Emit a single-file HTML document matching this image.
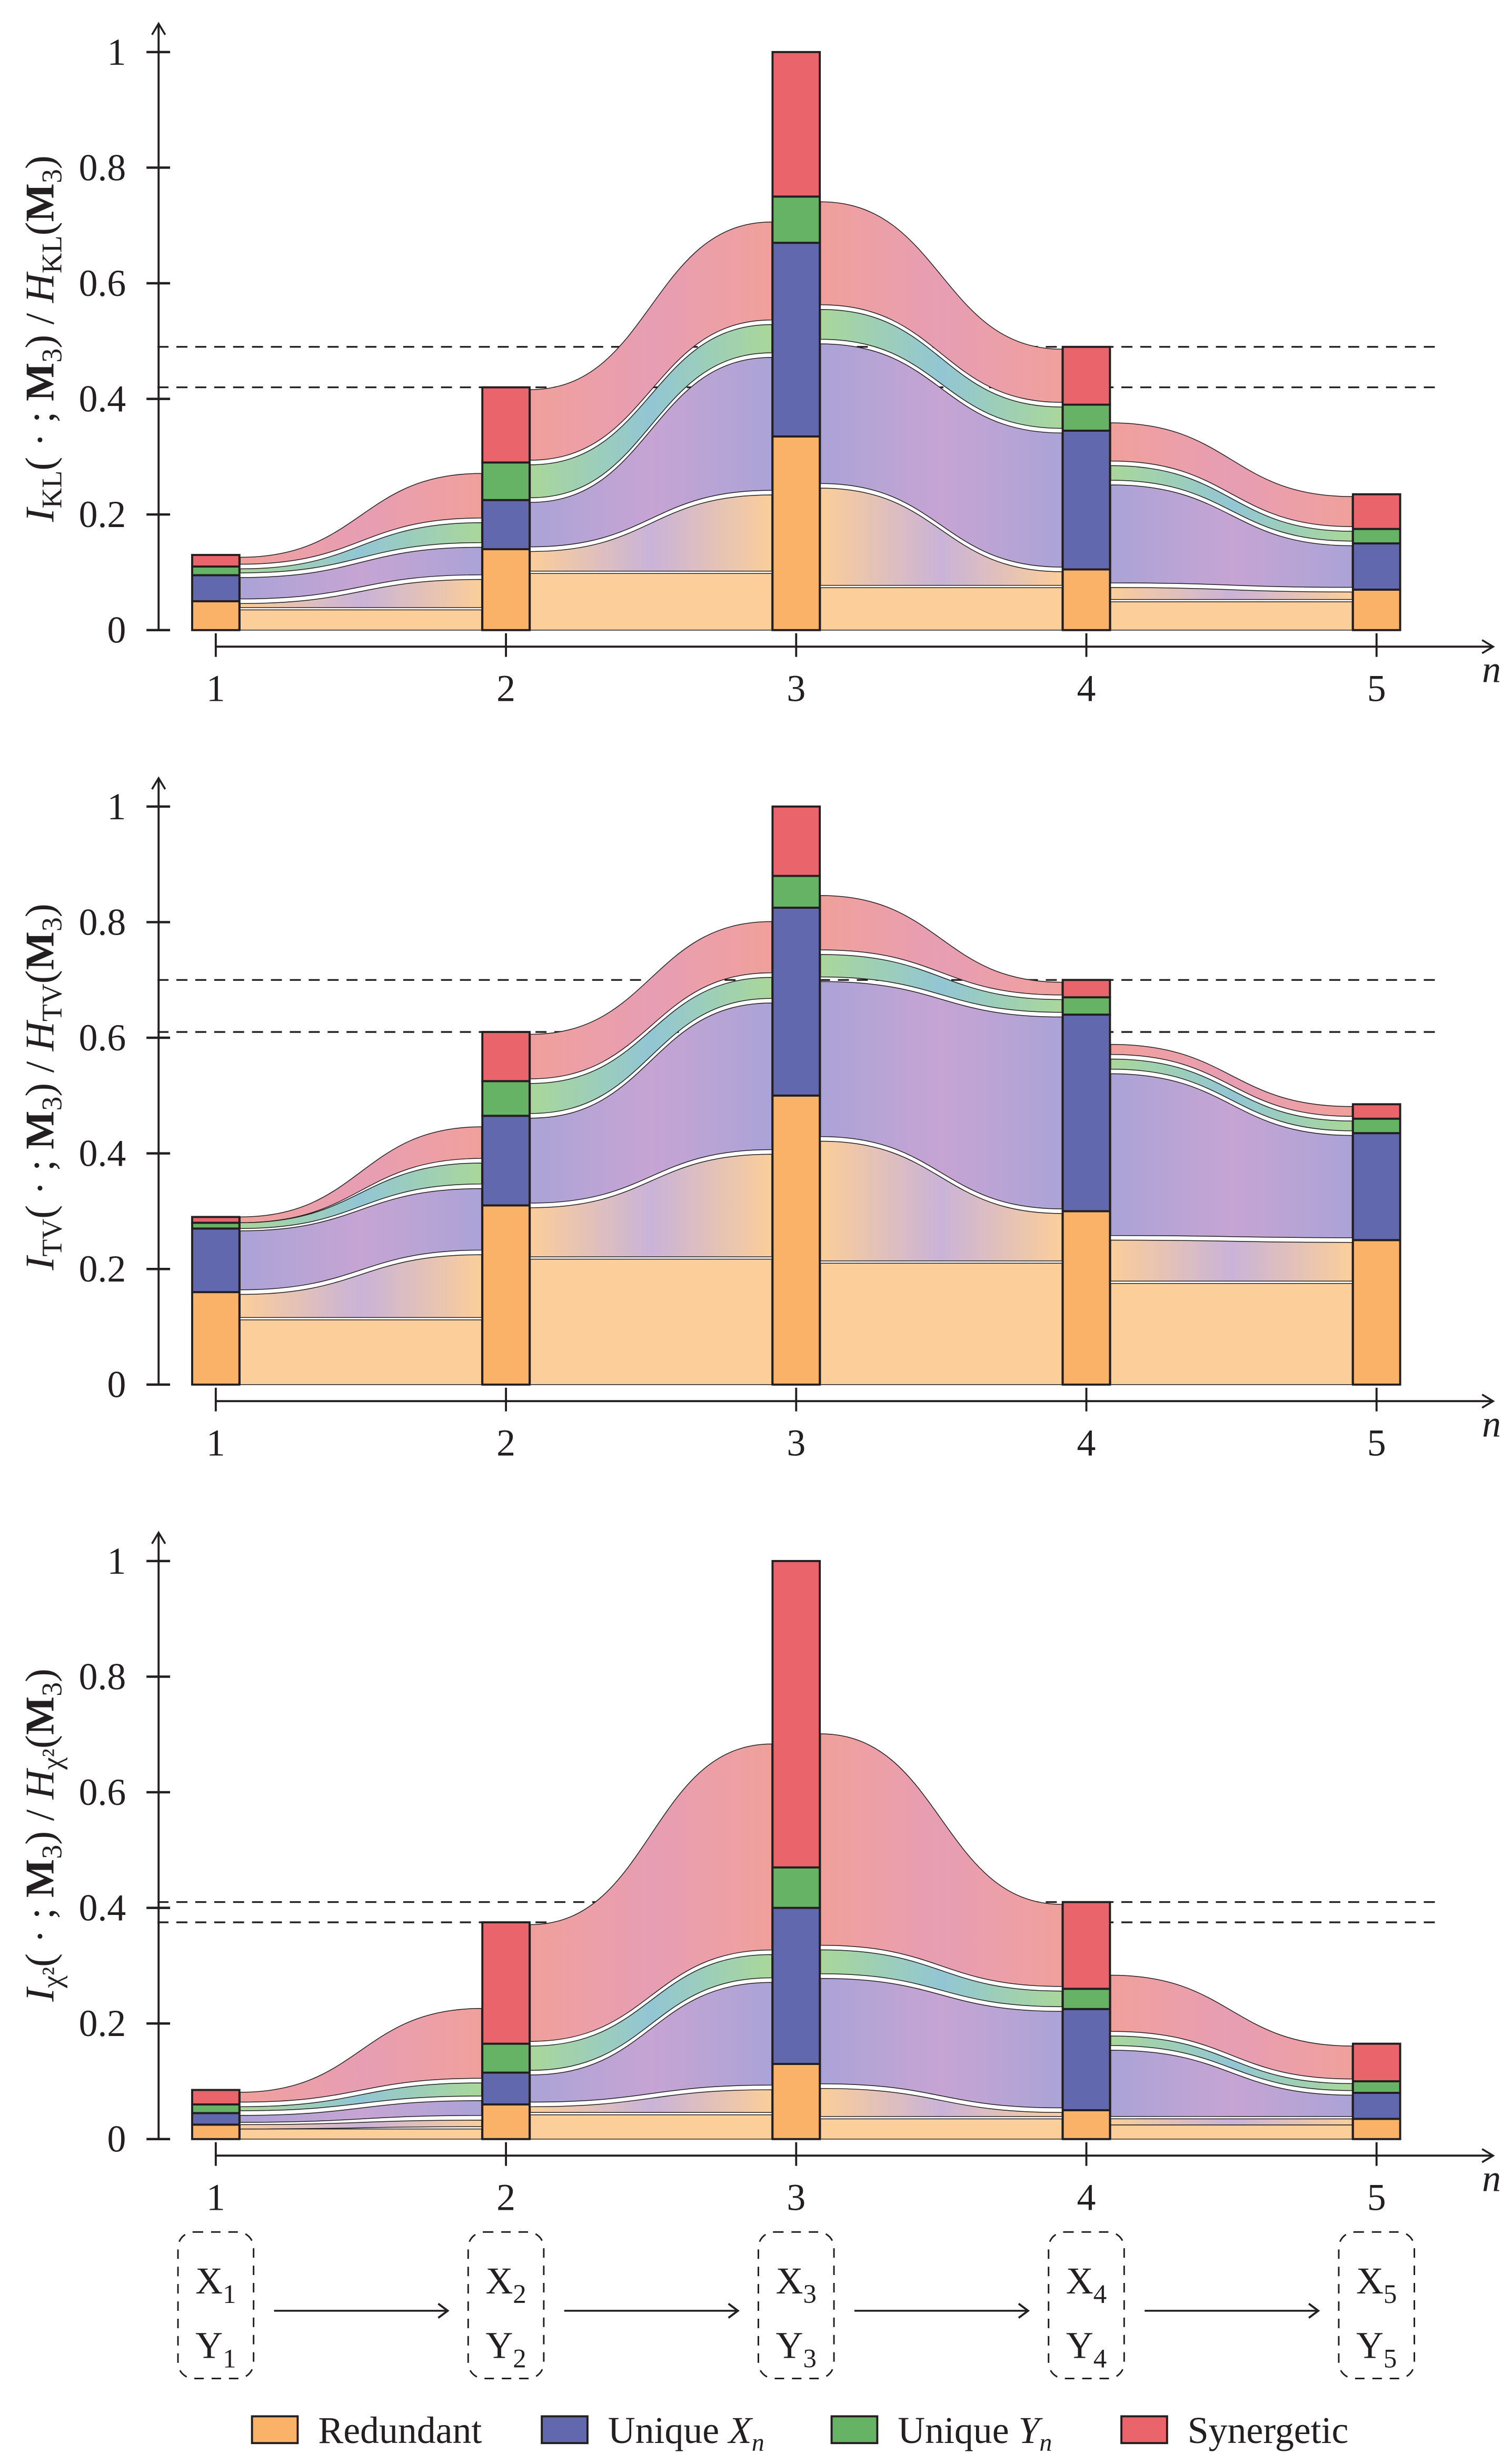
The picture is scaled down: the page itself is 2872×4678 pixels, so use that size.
<!DOCTYPE html>
<html><head><meta charset="utf-8">
<style>
html,body{margin:0;padding:0;background:#fff;}
svg{display:block;}
text{font-family:"Liberation Serif",serif;fill:#231f20;}
</style></head>
<body>
<svg id="root" width="2872" height="4678" viewBox="0 0 960 1563.6" xmlns="http://www.w3.org/2000/svg">
<defs id="defs"></defs>
<g id="charts"></g>
<g id="diagram"></g>
<g id="legend"></g>
</svg>
<script>
const categories=[1,2,3,4,5];
// Chart 1 (KL)
const klRedundant=[0.05,0.14,0.335,0.105,0.07];
const klUniqueX=[0.045,0.085,0.335,0.24,0.08];
const klUniqueY=[0.015,0.065,0.08,0.045,0.025];
const klSynergetic=[0.02,0.13,0.25,0.10,0.06];
const klDashed=[0.49,0.42];
// Chart 2 (TV)
const tvRedundant=[0.16,0.31,0.50,0.30,0.25];
const tvUniqueX=[0.11,0.155,0.325,0.34,0.185];
const tvUniqueY=[0.01,0.06,0.055,0.03,0.025];
const tvSynergetic=[0.01,0.085,0.12,0.03,0.025];
const tvDashed=[0.70,0.61];
// Chart 3 (chi^2)
const chiRedundant=[0.025,0.06,0.13,0.05,0.035];
const chiUniqueX=[0.02,0.055,0.27,0.175,0.045];
const chiUniqueY=[0.015,0.05,0.07,0.035,0.02];
const chiSynergetic=[0.025,0.21,0.53,0.15,0.065];
const chiDashed=[0.41,0.375];
const yTicks=[0,0.2,0.4,0.6,0.8,1];
const yTickLabels=["0","0.2","0.4","0.6","0.8","1"];

const NS="http://www.w3.org/2000/svg";
const barColors=["#F9B267","#6168AE","#66B366","#E9656B"];
const lightColors=["#FBCE9A","#ABA3D6","#A9D79A","#F0A09B"];
const midColors=["#C9B3D8","#C6A4D4","#92C6D4","#E79EB4"];
const compNames=["redundant","unique-x","unique-y","synergetic"];
function mk(tag,attrs,parent){const e=document.createElementNS(NS,tag);for(const k in attrs)e.setAttribute(k,attrs[k]);if(parent)parent.appendChild(e);return e;}
const defs=document.getElementById('defs');
const chartsG=document.getElementById('charts');
const X0=137, DX=184.25, HALF=15, UNIT=367;
function xs(n){return X0+(n-1)*DX;}

function drawChart(id,y0,series,dashed,lab,labY){
  const ys=v=>y0-v*UNIT;
  const g=mk('g',{},chartsG);
  
  
  const stacks=categories.map((c,i)=>{let acc=0;return series.map(s=>{const lo=acc;acc+=s[i];return [lo,acc];});});
  const totals=categories.map((c,i)=>series.reduce((a,s)=>a+s[i],0));
  dashed.forEach((d,k)=>{
    const l=mk('line',{x1:100,x2:912,y1:ys(d),y2:ys(d),stroke:'#231f20','stroke-width':1.1,'stroke-dasharray':'7,5'},g);
    
    
  });
  const fg=mk('g',{},g);
  
  
  for(let i=0;i<categories.length-1;i++){
    const x1=xs(categories[i])+HALF+0.5, x2=xs(categories[i+1])-HALF-0.5, xm=(x1+x2)/2;
    const avg=(totals[i]+totals[i+1])/2;
    const fs=Math.min(1,avg/totals[i]), ft=Math.min(1,avg/totals[i+1]);
    const base=Math.min(series[0][i],series[0][i+1])*0.7;
    const b=mk('rect',{x:x1,y:ys(base),width:x2-x1,height:base*UNIT,fill:lightColors[0],stroke:'#231f20','stroke-width':0.5},fg);
    
    
    for(let k=3;k>=0;k--){
      const s=stacks[i][k], t=stacks[i+1][k];
      let sLo=s[0]*fs,sHi=s[1]*fs,tLo=t[0]*ft,tHi=t[1]*ft;
      if(k===0){sLo=base;tLo=base;}
      const pad=0.004;
      if(sHi-sLo>3*pad){sLo+=pad;sHi-=pad;}
      if(tHi-tLo>3*pad){tLo+=pad;tHi-=pad;}
      const gid=id+'-grad-'+i+'-'+k;
      const lg=mk('linearGradient',{id:gid,x1:0,x2:1,y1:0,y2:0},defs);
      mk('stop',{offset:'0','stop-color':lightColors[k]},lg);
      mk('stop',{offset:'0.5','stop-color':midColors[k]},lg);
      mk('stop',{offset:'1','stop-color':lightColors[k]},lg);
      const d=`M${x1},${ys(sHi)} C${xm},${ys(sHi)} ${xm},${ys(tHi)} ${x2},${ys(tHi)} L${x2},${ys(tLo)} C${xm},${ys(tLo)} ${xm},${ys(sLo)} ${x1},${ys(sLo)} Z`;
      const p=mk('path',{d,fill:`url(#${gid})`,stroke:'#231f20','stroke-width':0.5},fg);
      
      
    }
  }
  categories.forEach((c,i)=>{
    const bg=mk('g',{},g);
    
    
    stacks[i].forEach((r,k)=>{
      const rc=mk('rect',{x:xs(c)-HALF,y:ys(r[1]),width:2*HALF,height:(r[1]-r[0])*UNIT,fill:barColors[k],stroke:'#231f20','stroke-width':1.3},bg);
      
      
    });
  });
  const ya=mk('g',{},g);
  
  
  mk('line',{x1:100.7,x2:100.7,y1:y0,y2:y0-384,stroke:'#231f20','stroke-width':1.3},ya);
  mk('path',{d:`M96.5,${y0-378} L100.7,${y0-385} L104.9,${y0-378}`,fill:'none',stroke:'#231f20','stroke-width':1.2},ya);
  yTicks.forEach((v,k)=>{
    mk('line',{x1:93,x2:108,y1:ys(v),y2:ys(v),stroke:'#231f20','stroke-width':1.5},ya);
    const t=mk('text',{x:80,y:ys(v)+8,'text-anchor':'end','font-size':24},ya);
    t.textContent=yTickLabels[k];
    
    
  });
  const xa=mk('g',{},g);
  
  
  const ax=y0+10.5;
  mk('line',{x1:137,x2:947,y1:ax,y2:ax,stroke:'#231f20','stroke-width':1.3},xa);
  mk('path',{d:`M941,${ax-4.2} L948,${ax} L941,${ax+4.2}`,fill:'none',stroke:'#231f20','stroke-width':1.2},xa);
  categories.forEach(c=>{
    mk('line',{x1:xs(c),x2:xs(c),y1:y0+2,y2:y0+17,stroke:'#231f20','stroke-width':1.3},xa);
    const t=mk('text',{x:xs(c),y:y0+45,'text-anchor':'middle','font-size':24},xa);
    t.textContent=String(c);
    
    
  });
  const nt=mk('text',{x:947,y:y0+33,'text-anchor':'middle','font-size':24,'font-style':'italic'},xa);
  nt.textContent='n';
  
  
  const yl=mk('text',{transform:`translate(34,${labY}) rotate(-90)`,'text-anchor':'middle','font-size':26},g);
  
  
  yl.innerHTML=`<tspan font-style="italic">I</tspan><tspan font-size="18" dy="5">${lab}</tspan><tspan dy="-5">(  ·  ; </tspan><tspan font-weight="bold">M</tspan><tspan font-size="18" dy="5">3</tspan><tspan dy="-5">) / </tspan><tspan font-style="italic">H</tspan><tspan font-size="18" dy="5">${lab}</tspan><tspan dy="-5">(</tspan><tspan font-weight="bold">M</tspan><tspan font-size="18" dy="5">3</tspan><tspan dy="-5">)</tspan>`;
}

drawChart('kl',400,[klRedundant,klUniqueX,klUniqueY,klSynergetic],klDashed,'KL',215);
drawChart('tv',879,[tvRedundant,tvUniqueX,tvUniqueY,tvSynergetic],tvDashed,'TV',690);
drawChart('chi',1358,[chiRedundant,chiUniqueX,chiUniqueY,chiSynergetic],chiDashed,'χ²',1165);

const dg=document.getElementById('diagram');
categories.forEach((c,i)=>{
  const x=xs(c);
  const r=mk('rect',{x:x-24,y:1417,width:48,height:93,rx:10,fill:'none',stroke:'#231f20','stroke-width':1,'stroke-dasharray':'6,5'},dg);
  
  
  const tx=mk('text',{x:x,y:1456,'text-anchor':'middle','font-size':24},dg);
  tx.innerHTML=`X<tspan font-size="17" dy="6">${c}</tspan>`;
  
  
  const ty=mk('text',{x:x,y:1497,'text-anchor':'middle','font-size':24},dg);
  ty.innerHTML=`Y<tspan font-size="17" dy="6">${c}</tspan>`;
  
  
  if(i<categories.length-1){
    const a=mk('g',{},dg);
    
    
    const x1=x+37,x2=xs(categories[i+1])-37;
    mk('line',{x1:x1,x2:x2,y1:1467,y2:1467,stroke:'#231f20','stroke-width':1.2},a);
    mk('path',{d:`M${x2-6},${1462.5} L${x2},1467 L${x2-6},${1471.5}`,fill:'none',stroke:'#231f20','stroke-width':1.3},a);
  }
});
const lg=document.getElementById('legend');
const legendItems=[["Redundant",null,160],["Unique X","n",344],["Unique Y","n",528],["Synergetic",null,712]];
legendItems.forEach((it,k)=>{
  const e=mk('g',{},lg);
  
  
  mk('rect',{x:it[2],y:1534,width:29,height:17,fill:barColors[k],stroke:'#231f20','stroke-width':1.3},e);
  const t=mk('text',{x:it[2]+42,y:1551,'font-size':24},e);
  if(it[1]){
    const parts=it[0].split(' ');
    t.innerHTML=`${parts[0]} <tspan font-style="italic">${parts[1]}</tspan><tspan font-size="16" font-style="italic" dy="5">${it[1]}</tspan>`;
  } else t.textContent=it[0];
});
</script>
</body></html>
